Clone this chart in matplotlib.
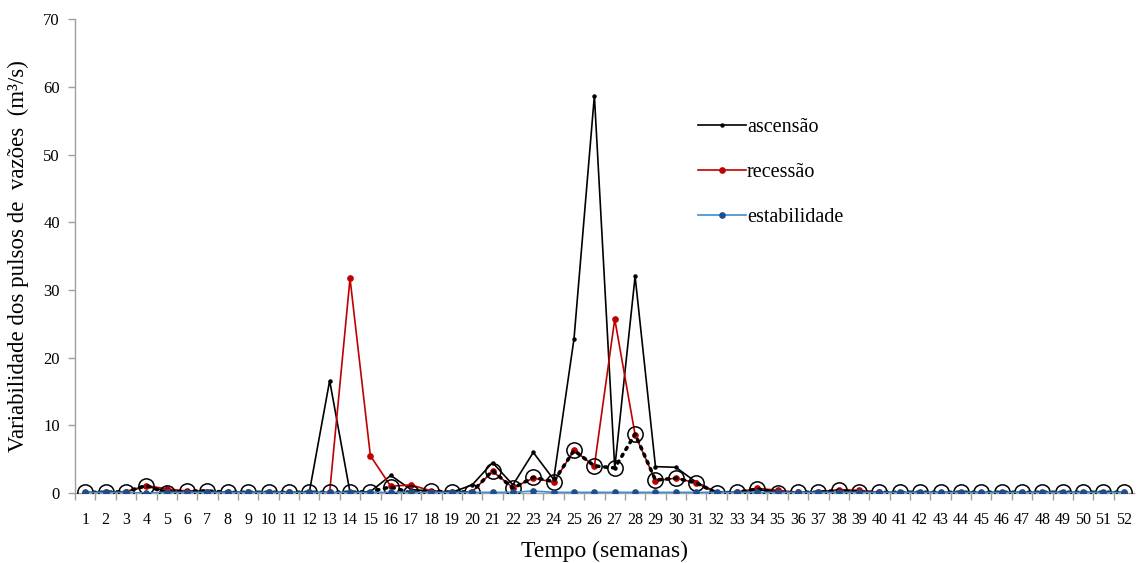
import matplotlib
matplotlib.use("Agg")
import matplotlib.pyplot as plt
from matplotlib.lines import Line2D

plt.rcParams['font.family'] = ['Liberation Serif', 'DejaVu Serif']

semanas = list(range(1, 53))

ascensao = [0.1, 0.1, 0.2, 1.0, 0.3, 0.3, 0.2, 0.1, 0.1, 0.1, 0.1, 0.1,
            16.6, 0.1, 0.2, 2.6, 0.5, 0.3, 0.1, 1.2, 4.5, 1.2, 6.0, 2.0,
            22.8, 58.7, 3.7, 32.0, 3.9, 3.8, 1.6, 0.1, 0.1, 0.5, 0.2, 0.1,
            0.1, 0.4, 0.2, 0.1, 0.1, 0.1, 0.1, 0.1, 0.1, 0.1, 0.1, 0.1,
            0.1, 0.1, 0.1, 0.1]

recessao = [0.0, 0.1, 0.2, 1.1, 0.6, 0.3, 0.2, 0.1, 0.1, 0.1, 0.1, 0.1,
            0.1, 31.7, 5.5, 1.0, 1.2, 0.3, 0.1, 0.2, 3.2, 0.8, 2.2, 1.6,
            6.3, 4.0, 25.7, 8.6, 1.8, 2.2, 1.5, 0.0, 0.1, 0.7, 0.4, 0.1,
            0.1, 0.5, 0.4, 0.1, 0.0, 0.0, 0.0, 0.0, 0.0, 0.0, 0.0, 0.0,
            0.0, 0.0, 0.0, 0.0]

estabilidade = [0.1, 0.1, 0.1, 0.0, 0.1, 0.1, 0.1, 0.1, 0.1, 0.1, 0.1, 0.1,
                0.1, 0.1, 0.1, 0.1, 0.1, 0.1, 0.1, 0.1, 0.1, 0.1, 0.3, 0.1,
                0.1, 0.1, 0.1, 0.1, 0.1, 0.1, 0.1, 0.1, 0.1, 0.1, 0.1, 0.1,
                0.1, 0.1, 0.1, 0.1, 0.1, 0.1, 0.1, 0.1, 0.1, 0.1, 0.1, 0.1,
                0.1, 0.1, 0.1, 0.1]

mediana = [0.1, 0.1, 0.2, 1.1, 0.0, 0.3, 0.3, 0.1, 0.1, 0.1, 0.1, 0.1,
           0.1, 0.1, 0.2, 0.9, 0.0, 0.3, 0.1, 0.2, 3.3, 0.7, 2.3, 1.7,
           6.3, 4.0, 3.7, 8.7, 1.9, 2.2, 1.5, 0.0, 0.1, 0.6, 0.0, 0.1,
           0.1, 0.4, 0.1, 0.1, 0.1, 0.1, 0.1, 0.1, 0.1, 0.1, 0.1, 0.1,
           0.1, 0.1, 0.1, 0.1]

y_ticks = [0, 10, 20, 30, 40, 50, 60, 70]

RED = '#C00000'
BLUE_LINE = '#3A8FD4'
BLUE_MK = '#1F4E8C'

fig = plt.figure(figsize=(11.38, 5.63), dpi=100)
ax = fig.add_axes([0.066, 0.1243, 0.9305, 0.8417])

ax.plot(semanas, ascensao, color='black', lw=1.2, marker='o', ms=2.2,
        mfc='black', mec='black', zorder=3)
ax.plot(semanas, recessao, color=RED, lw=1.2, marker='o', ms=3.8,
        mfc=RED, mec=RED, zorder=4)
ax.plot(semanas, mediana, color='black', lw=2.6, linestyle=(0, (0.6, 1.6)),
        dash_capstyle='round', marker='o', ms=11, mfc='none', mec='black',
        mew=1.1, zorder=5)
ax.plot(semanas, estabilidade, color=BLUE_LINE, lw=1.2, marker='o', ms=3.8,
        mfc=BLUE_MK, mec=BLUE_MK, zorder=6)

ax.set_xlim(0.5, 52.5)
ax.set_ylim(0, 70)
ax.set_yticks(y_ticks)
ax.set_xticks(semanas)
ax.set_xticks([s + 0.5 for s in semanas[:-1]] + [0.5], minor=True)
ax.tick_params(axis='x', which='major', length=0, pad=14, labelsize=11.5)
ax.tick_params(axis='x', which='minor', length=5, color='#A0A0A0', width=1)
ax.tick_params(axis='y', length=5, color='#A0A0A0', width=1, labelsize=12, pad=6)

for side in ('top', 'right'):
    ax.spines[side].set_visible(False)
for side in ('left', 'bottom'):
    ax.spines[side].set_color('#A0A0A0')
    ax.spines[side].set_linewidth(1)

ax.set_xlabel('Tempo (semanas)', fontsize=17, labelpad=9)
ax.set_ylabel('Variabilidade dos pulsos de  vazões  (m³/s)', fontsize=16.5, labelpad=10)

handles = [
    Line2D([], [], color='black', lw=1.2, marker='o', ms=2.2),
    Line2D([], [], color=RED, lw=1.2, marker='o', ms=3.8),
    Line2D([], [], color=BLUE_LINE, lw=1.2, marker='o', ms=3.8, mfc=BLUE_MK, mec=BLUE_MK),
]
fig.legend(handles, ['ascensão', 'recessão', 'estabilidade'],
           loc='upper left', bbox_to_anchor=(0.597, 0.823), frameon=False,
           fontsize=14.5, handlelength=2.4, handletextpad=0.05, labelspacing=1.3)

fig.savefig('out.png', dpi=100)
